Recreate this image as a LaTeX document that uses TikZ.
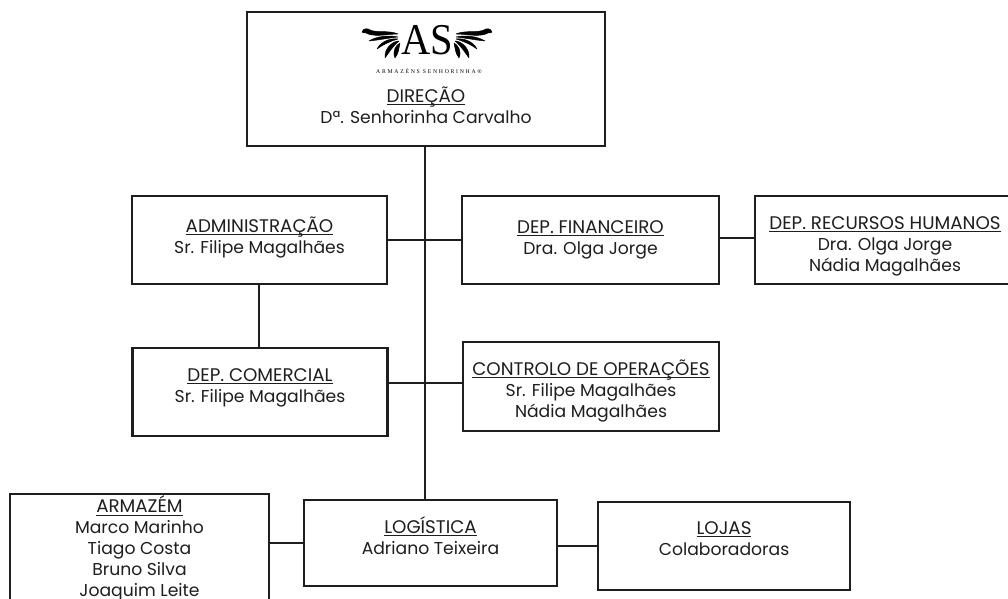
\documentclass[tikz,border=0pt]{standalone}
\usepackage{fontspec}
\setmainfont{Poppins}
\newfontfamily\logofont[FakeStretch=0.92]{Liberation Serif}
\newfontfamily\logosub[LetterSpace=30]{Liberation Serif}
\definecolor{ink}{HTML}{1E1E1E}
\newcommand{\cardtext}[2]{\raisebox{\dimexpr#1-0.25em\relax}[0pt][0pt]{\fontsize{12.9}{15.7}\selectfont\begin{tabular}{@{}c@{}}#2\end{tabular}}}
\newcommand{\cardhead}[1]{\underline{\smash{\fontsize{13.7}{15.7}\selectfont #1}}}
\newcommand{\wingshape}{
  \filldraw (1,5) .. controls (2,1) and (7,1) .. (9,3) .. controls (16,6) and (28,3) .. (37,7) .. controls (28,7) and (16,10) .. (7,7) .. controls (5,6) and (4,5) .. (3,6) -- cycle;
  \filldraw (8,14) .. controls (16,9) and (28,8) .. (37,10) .. controls (28,11) and (18,13) .. (8,14) -- cycle;
  \filldraw (16,22) .. controls (20,14) and (30,11) .. (37,12) .. controls (30,14) and (23,17) .. (16,22) -- cycle;
  \filldraw (24,31) .. controls (23,21) and (32,14) .. (38,14) .. controls (33,18) and (29,24) .. (24,31) -- cycle;
  \filldraw (34,31) .. controls (31,24) and (35,18) .. (39,16) .. controls (38,20) and (38,26) .. (34,31) -- cycle;
}
\tikzset{
  card/.style={draw=ink,line width=1.7pt,fill=white,rectangle,inner sep=0pt,text=ink,anchor=center},
  link/.style={draw=ink,line width=1.6pt},
  wingpart/.style={fill=black,draw=black,line width=0.35pt,line join=round},
}
\begin{document}
\begin{tikzpicture}[x=0.75pt,y=-0.75pt]
\useasboundingbox (0,0) rectangle (1008,599);
\clip (0,0) rectangle (1008,599);
\fill[white] (0,0) rectangle (1008,599);
% boxes
\node[card,minimum width=268.5pt,minimum height=100.5pt] (dir) at (426,79) {\raisebox{-33.5pt}[0pt][0pt]{\fontsize{12.9}{15.7}\selectfont\begin{tabular}[b]{@{}c@{}}\cardhead{DIREÇÃO}\\Dª. Senhorinha Carvalho\end{tabular}}};
\node[card,minimum width=191.25pt,minimum height=66pt] (adm) at (259.5,240) {\cardtext{0.5pt}{\cardhead{ADMINISTRAÇÃO}\\Sr. Filipe Magalhães}};
\node[card,minimum width=192.75pt,minimum height=66pt] (fin) at (590.5,240) {\cardtext{-0.5pt}{\cardhead{DEP. FINANCEIRO}\\Dra. Olga Jorge}};
\node[card,minimum width=195pt,minimum height=66pt] (rh) at (885,240) {\cardtext{-5.2pt}{\cardhead{DEP. RECURSOS HUMANOS}\\Dra. Olga Jorge\\Nádia Magalhães}};
\node[card,minimum width=191.25pt,minimum height=66pt] (com) at (260,392) {\cardtext{2.5pt}{\cardhead{DEP. COMERCIAL}\\Sr. Filipe Magalhães}};
\node[card,minimum width=192pt,minimum height=66.75pt] (ctl) at (591,386.5) {\cardtext{-4.6pt}{\cardhead{CONTROLO DE OPERAÇÕES}\\Sr. Filipe Magalhães\\Nádia Magalhães}};
\node[card,minimum width=189.75pt,minimum height=64.5pt] (log) at (430.5,543) {\cardtext{2.2pt}{\cardhead{LOGÍSTICA}\\Adriano Teixeira}};
\node[card,minimum width=189pt,minimum height=66pt] (loj) at (724,546) {\cardtext{3.5pt}{\cardhead{LOJAS}\\Colaboradoras}};
\node[card,minimum width=194.25pt,minimum height=90pt] (arm) at (139.5,554) {\cardtext{2pt}{\cardhead{ARMAZÉM}\\Marco Marinho\\Tiago Costa\\Bruno Silva\\Joaquim Leite}};
% connectors
\coordinate (trunkB) at (425,500);
\draw[link] (425,146) -- (trunkB);
\draw[link] (adm.east |- 0,240) -- (fin.west |- 0,240);
\draw[link] (com.east |- 0,383) -- (ctl.west |- 0,383);
\draw[link] (fin.east |- 0,238) -- (rh.west |- 0,238);
\draw[link] (259,284) -- (259,348);
\draw[link] (arm.east |- 0,543) -- (log.west |- 0,543);
\draw[link] (log.east |- 0,546) -- (loj.west |- 0,546);
% logo
\node[text=black,inner sep=0pt,font=\fontsize{33}{33}\selectfont\logofont] (logoAS) at (427,40) {AS};
\node[text=black,inner sep=0pt,font=\fontsize{4.3}{4.5}\selectfont\logosub] (logoSub) at (429,71) {ARMAZÉNS  SENHORINHA®};
\begin{scope}[shift={(361,27)},every path/.style={wingpart}]\wingshape\end{scope}
\begin{scope}[shift={(493,27)},xscale=-1,every path/.style={wingpart}]\wingshape\end{scope}
\end{tikzpicture}
\end{document}
